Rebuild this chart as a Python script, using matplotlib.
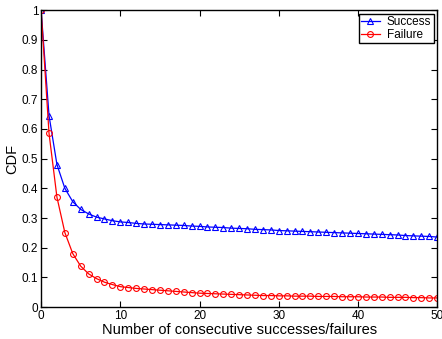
import numpy as np
import matplotlib
matplotlib.use("Agg")
import matplotlib.pyplot as plt

plt.rcParams['font.family'] = ['Liberation Sans', 'DejaVu Sans']

x_vals = list(range(0, 51))

success = [1.000, 0.645, 0.480, 0.400, 0.355, 0.329, 0.314, 0.303, 0.297, 0.291,
           0.287, 0.285, 0.282, 0.280, 0.279, 0.278, 0.277, 0.276, 0.275, 0.273,
           0.272, 0.270, 0.269, 0.268, 0.266, 0.265, 0.264, 0.262, 0.261, 0.260,
           0.258, 0.257, 0.256, 0.255, 0.254, 0.253, 0.252, 0.251, 0.250, 0.249,
           0.248, 0.247, 0.246, 0.245, 0.244, 0.243, 0.241, 0.240, 0.239, 0.238,
           0.236]

failure = [1.000, 0.585, 0.370, 0.251, 0.180, 0.138, 0.112, 0.096, 0.084, 0.076,
           0.069, 0.066, 0.063, 0.061, 0.059, 0.057, 0.055, 0.053, 0.051, 0.049,
           0.047, 0.046, 0.045, 0.044, 0.043, 0.042, 0.041, 0.040, 0.039, 0.039,
           0.038, 0.038, 0.037, 0.037, 0.037, 0.036, 0.036, 0.036, 0.035, 0.035,
           0.035, 0.034, 0.034, 0.034, 0.033, 0.033, 0.033, 0.032, 0.032, 0.031,
           0.031]

fig = plt.figure(figsize=(4.42, 3.39), dpi=100)
ax = fig.add_axes([0.093, 0.094, 0.896, 0.876])

ax.plot(x_vals, success, color='blue', marker='^', markersize=4.5, markerfacecolor='none',
        markeredgewidth=0.8, linewidth=0.9, label='Success')
ax.plot(x_vals, failure, color='red', marker='o', markersize=4.2, markerfacecolor='none',
        markeredgewidth=0.8, linewidth=0.9, label='Failure')

ax.set_xlim(0, 50)
ax.set_ylim(0, 1)
ax.set_xticks([0, 10, 20, 30, 40, 50])
ax.set_yticks(np.arange(0, 1.01, 0.1))
ax.set_yticklabels(['0', '0.1', '0.2', '0.3', '0.4', '0.5', '0.6', '0.7', '0.8', '0.9', '1'])
ax.tick_params(direction='in', top=True, right=True, labelsize=8.5, length=4, width=0.8, pad=2)
for s in ax.spines.values():
    s.set_linewidth(1.0)

ax.set_xlabel('Number of consecutive successes/failures', fontsize=10.5, labelpad=1)
ax.set_ylabel('CDF', fontsize=10.5, labelpad=2)

leg = ax.legend(loc='upper right', fontsize=8.5, fancybox=False, framealpha=1,
                edgecolor='black', borderaxespad=0.3, handlelength=1.6,
                borderpad=0.2, labelspacing=0.05, handletextpad=0.6)
leg.get_frame().set_linewidth(1.0)

fig.savefig('out.png', dpi=100)
